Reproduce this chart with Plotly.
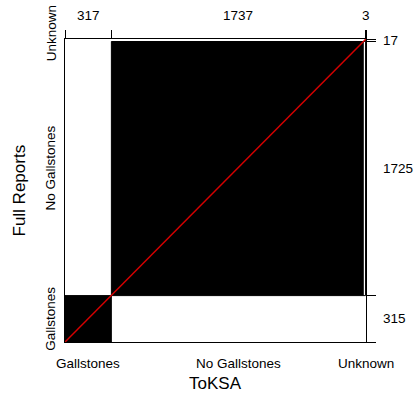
import plotly.graph_objects as go
import numpy as np

categories = ["Gallstones", "No Gallstones", "Unknown"]
row_title = "Full Reports"
col_title = "ToKSA"
# rows: Full Reports, columns: ToKSA
table = [
    [315, 0, 0],
    [0, 1725, 0],
    [2, 12, 3],
]

T = np.array(table)
N = int(T.sum())
row_tot = T.sum(axis=1)
col_tot = T.sum(axis=0)
xc = np.concatenate([[0], np.cumsum(col_tot)])
yc = np.concatenate([[0], np.cumsum(row_tot)])
xmid = (xc[:-1] + xc[1:]) / 2
ymid = (yc[:-1] + yc[1:]) / 2

FONT = "Liberation Sans, Arial, Helvetica, sans-serif"
fig = go.Figure()
fig.add_trace(go.Scatter(x=[0, N], y=[0, N], mode="lines",
                         line=dict(color="#d40000", width=1.5),
                         hoverinfo="skip", showlegend=False))
fig.add_trace(go.Scatter(x=[0, N], y=[0, N], mode="markers", xaxis="x2", yaxis="y2",
                         marker=dict(opacity=0), hoverinfo="skip", showlegend=False))

shapes = []
for i in range(len(categories)):
    shapes.append(dict(type="rect", xref="x", yref="y", layer="below",
                       x0=xc[i], x1=xc[i + 1], y0=yc[i], y1=yc[i + 1],
                       fillcolor="white", line=dict(color="black", width=1)))
    bx = xc[i] + T[:i, i].sum()
    by = yc[i] + T[i, :i].sum()
    d = T[i, i]
    shapes.append(dict(type="rect", xref="x", yref="y", layer="below",
                       x0=bx, x1=bx + d, y0=by, y1=by + d,
                       fillcolor="black", line=dict(width=0)))

ann = []
for i, c in enumerate(categories):
    ann.append(dict(x=xmid[i], y=0, xref="x", yref="paper", text=c, showarrow=False,
                    xanchor="center", yanchor="middle", yshift=-21,
                    font=dict(size=13.5, color="black", family=FONT)))
    ann.append(dict(x=0, y=ymid[i], xref="paper", yref="y", text=c, showarrow=False,
                    textangle=-90, xanchor="center", yanchor="middle", xshift=-14,
                    yshift=7 if i == len(categories) - 1 else 0,
                    font=dict(size=13.5, color="black", family=FONT)))
    ann.append(dict(x=xmid[i], y=1, xref="x", yref="paper", text=str(col_tot[i]),
                    showarrow=False, xanchor="center", yanchor="middle", yshift=23.5,
                    font=dict(size=13.5, color="black", family=FONT)))
    ann.append(dict(x=1, y=ymid[i], xref="paper", yref="y", text=str(row_tot[i]),
                    showarrow=False, xanchor="left", yanchor="middle", xshift=14.5,
                    font=dict(size=13.5, color="black", family=FONT)))
ann.append(dict(x=0.5, y=0, xref="paper", yref="paper", text=col_title, showarrow=False,
                xanchor="center", yanchor="middle", yshift=-41,
                font=dict(size=17, color="black", family=FONT)))
ann.append(dict(x=0, y=0.5, xref="paper", yref="paper", text=row_title, showarrow=False,
                textangle=-90, xanchor="center", yanchor="middle", xshift=-46,
                font=dict(size=17, color="black", family=FONT)))

axis_common = dict(showgrid=False, zeroline=False, range=[0, N], fixedrange=True)
fig.update_layout(
    width=414, height=394,
    margin=dict(l=65, r=48, t=39, b=52),
    paper_bgcolor="white", plot_bgcolor="white",
    showlegend=False,
    shapes=shapes, annotations=ann,
    xaxis=dict(**axis_common, showticklabels=False, ticks="", showline=True,
               linecolor="black", linewidth=1),
    yaxis=dict(**axis_common, showticklabels=False, ticks="", showline=True,
               linecolor="black", linewidth=1),
    xaxis2=dict(**axis_common, overlaying="x", side="top", tickvals=list(xc),
                showticklabels=False, ticks="outside", ticklen=8, tickwidth=1,
                tickcolor="black", showline=True, linecolor="black", linewidth=1),
    yaxis2=dict(**axis_common, overlaying="y", side="right", tickvals=list(yc),
                showticklabels=False, ticks="outside", ticklen=9, tickwidth=1,
                tickcolor="black", showline=True, linecolor="black", linewidth=1),
)

fig.write_html("out.html", config={"displayModeBar": False})

# remove the default page margin so the figure sits at the window's top-left corner
with open("out.html", "r", encoding="utf-8") as f:
    html = f.read()
html = html.replace("<head>", "<head><style>html,body{margin:0;padding:0;overflow:hidden;}</style>", 1)
with open("out.html", "w", encoding="utf-8") as f:
    f.write(html)
